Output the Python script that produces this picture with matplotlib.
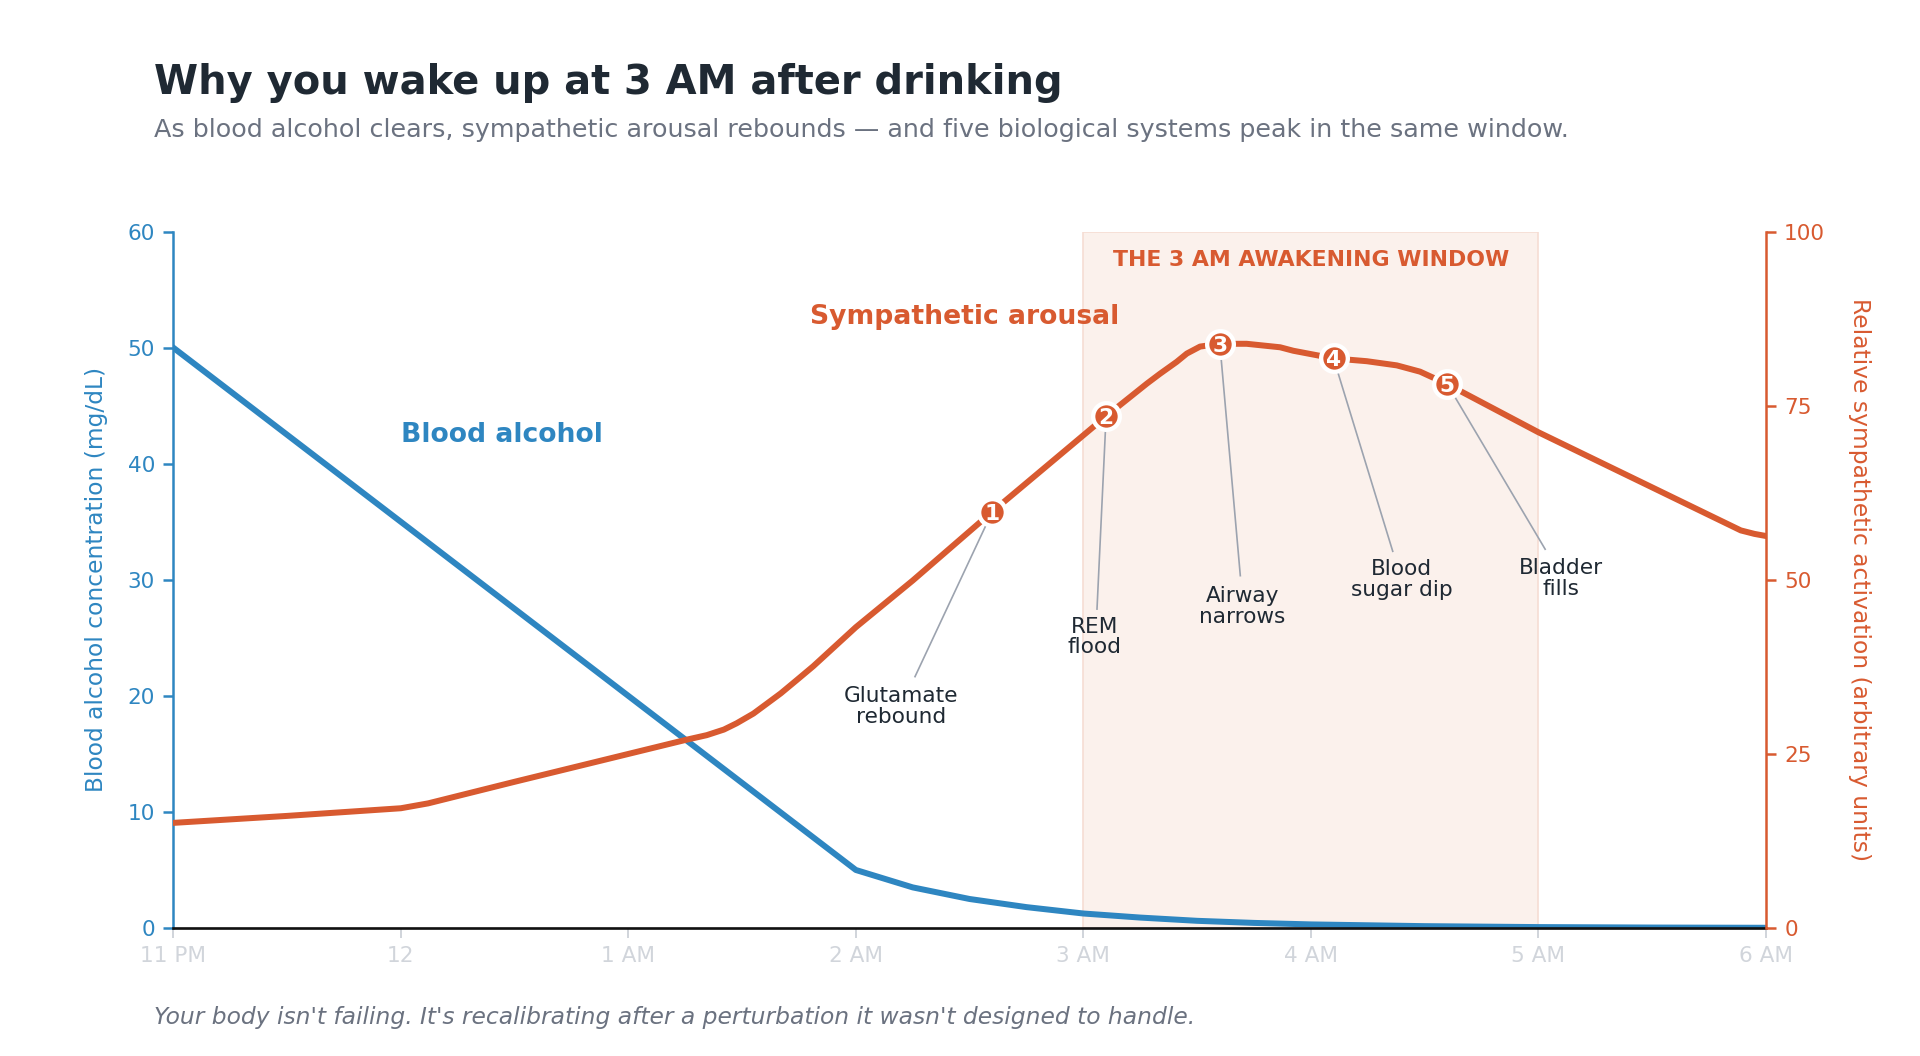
"""Blood alcohol vs sympathetic arousal overnight, with the 3 AM awakening window."""

import matplotlib

matplotlib.use("Agg")
import matplotlib.pyplot as plt

# hours after 11 PM
hour_ticks = [0, 1, 2, 3, 4, 5, 6, 7]
hour_labels = ["11 PM", "12", "1 AM", "2 AM", "3 AM", "4 AM", "5 AM", "6 AM"]

alcohol_hours = [0, 1, 2, 3, 3.25, 3.5, 3.75, 4, 4.25, 4.5, 4.75, 5, 5.5, 6, 6.5, 7]
blood_alcohol = [50, 35, 20, 5, 3.5, 2.5, 1.8, 1.25, 0.9, 0.62, 0.44, 0.31, 0.16, 0.08, 0.04, 0.02]

arousal_hours = [0, 0.5, 1.0, 1.12, 1.5, 2.0, 2.25, 2.345, 2.42, 2.476, 2.55, 2.608, 2.67, 2.74,
                 2.813, 3.0, 3.25, 3.6, 4.1, 4.28, 4.337, 4.41, 4.455, 4.513, 4.6, 4.718, 4.865,
                 4.923, 5.1, 5.246, 5.378, 5.48, 5.6, 6.0, 6.48, 6.77, 6.89, 6.95, 7.0]
arousal = [15.1, 16.1, 17.2, 17.9, 21.0, 25.0, 27.0, 27.7, 28.5, 29.4, 30.8, 32.2, 33.7, 35.6,
           37.6, 43.2, 49.9, 59.8, 73.5, 78.2, 79.6, 81.3, 82.5, 83.5, 83.9, 83.9, 83.4,
           82.9, 81.8, 81.4, 80.8, 79.9, 78.1, 71.2, 63.6, 59.0, 57.1, 56.6, 56.3]

event_hours = [3.6, 4.1, 4.6, 5.1, 5.6]
event_values = [59.8, 73.5, 83.9, 81.8, 78.1]
event_labels = ["Glutamate\nrebound", "REM\nflood", "Airway\nnarrows", "Blood\nsugar dip", "Bladder\nfills"]
label_x = [3.20, 4.05, 4.70, 5.40, 6.10]
label_y = [31.8, 41.8, 46.2, 50.1, 50.2]
leader_x = [3.26, 4.06, 4.69, 5.36, 6.03]
leader_y = [36.1, 45.8, 50.6, 54.1, 54.4]

window_start, window_end = 4, 6

BLUE = "#2E86C1"
ORANGE = "#D85A30"
DARK = "#1F2933"
GREY = "#6B7280"
LIGHT = "#D1D5DB"
LEADER = "#9CA3AF"


def main() -> None:
    fig = plt.figure(figsize=(16, 8.8), dpi=120)
    ax = fig.add_axes([0.0903, 0.1212, 0.8294, 0.6594])
    ax2 = ax.twinx()

    ax.axvspan(window_start, window_end, facecolor="#FBF1EC", edgecolor="#F6DDD3", lw=1.0, zorder=0)
    ax.text((window_start + window_end) / 2, 57.6, "THE 3 AM AWAKENING WINDOW", color=ORANGE,
            fontsize=13.2, fontweight="bold", ha="center", va="center")

    ax.plot(alcohol_hours, blood_alcohol, color=BLUE, lw=3.6, solid_joinstyle="round", zorder=3)
    ax.text(1.0, 42.5, "Blood alcohol", color=BLUE, fontsize=16, fontweight="bold", ha="left", va="center")

    ax2.plot(arousal_hours, arousal, color=ORANGE, lw=3.6, solid_joinstyle="round", zorder=3)
    ax2.text(2.8, 87.8, "Sympathetic arousal", color=ORANGE, fontsize=16, fontweight="bold",
             ha="left", va="center")

    for i, (hx, hy) in enumerate(zip(event_hours, event_values)):
        ax2.plot([hx, leader_x[i]], [hy, leader_y[i]], color=LEADER, lw=1.0, zorder=4)
        ax2.text(label_x[i], label_y[i], event_labels[i], color=DARK, fontsize=13, ha="center",
                 va="center", linespacing=1.05, zorder=4)
    ax2.plot(event_hours, event_values, "o", ms=16, mfc=ORANGE, mec="white", mew=2.6, zorder=5)
    for i, (hx, hy) in enumerate(zip(event_hours, event_values)):
        ax2.text(hx, hy, str(i + 1), color="white", fontsize=13, fontweight="bold",
                 ha="center", va="center_baseline", zorder=6)

    ax.set_xlim(0, 7)
    ax.set_ylim(0, 60)
    ax2.set_ylim(0, 100)
    ax.set_xticks(hour_ticks)
    ax.set_xticklabels(hour_labels)
    ax.set_yticks(range(0, 61, 10))
    ax2.set_yticks([0, 25, 50, 75, 100])

    for side in ("top", "right"):
        ax.spines[side].set_visible(False)
    for side in ("top", "left", "bottom"):
        ax2.spines[side].set_visible(False)
    ax.spines["left"].set_color(BLUE)
    ax.spines["left"].set_linewidth(1.5)
    ax.spines["bottom"].set_color("#111111")
    ax.spines["bottom"].set_linewidth(1.6)
    ax.spines["bottom"].set_zorder(4)
    ax2.spines["right"].set_color(ORANGE)
    ax2.spines["right"].set_linewidth(1.5)

    ax.tick_params(axis="x", colors=LIGHT, labelsize=13, length=6, width=1.2, pad=4.5)
    ax.tick_params(axis="y", colors=BLUE, labelsize=13, length=6, width=1.5, pad=5)
    ax2.tick_params(axis="y", colors=ORANGE, labelsize=13, length=6, width=1.5, pad=5)

    ax.set_ylabel("Blood alcohol concentration (mg/dL)", color=BLUE, fontsize=14, labelpad=12)
    ax2.set_ylabel("Relative sympathetic activation (arbitrary units)", color=ORANGE, fontsize=14,
                   rotation=270, va="bottom", labelpad=14)

    fig.text(0.0804, 0.9107, "Why you wake up at 3 AM after drinking", color=DARK, fontsize=24,
             fontweight="bold", ha="left", va="baseline")
    fig.text(0.0804, 0.870, "As blood alcohol clears, sympathetic arousal rebounds \u2014 and five "
             "biological systems peak in the same window.", color=GREY, fontsize=15.25,
             ha="left", va="baseline")
    fig.text(0.0804, 0.0305, "Your body isn't failing. It's recalibrating after a perturbation it "
             "wasn't designed to handle.", color=GREY, fontsize=14, style="italic",
             ha="left", va="baseline")

    fig.savefig("out.png", dpi=120, facecolor="white")
    plt.close(fig)


if __name__ == "__main__":
    main()
